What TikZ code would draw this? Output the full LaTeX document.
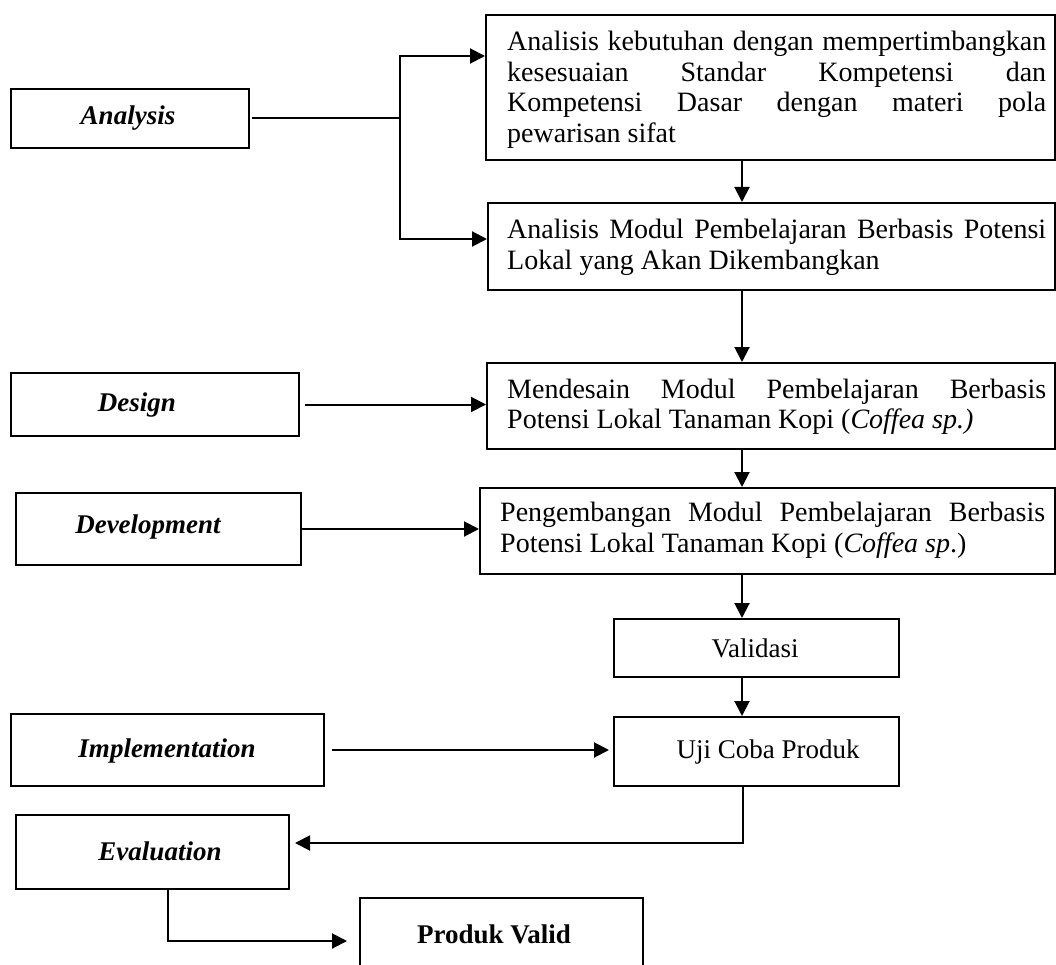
\documentclass[tikz,border=0pt]{standalone}
\usepackage{fontspec}
\setmainfont{Liberation Serif}
\usetikzlibrary{arrows.meta}
\hyphenpenalty=10000
\exhyphenpenalty=10000
\tolerance=9999
\begin{document}
\begin{tikzpicture}[x=1pt,y=-1pt,
  box/.style={draw, line width=2pt, rectangle, anchor=north west, inner sep=0pt},
  body/.style={font=\fontsize{28}{30.5}\selectfont, text width=#1, align=justify, inner sep=0pt, anchor=west},
  lab/.style={font=\fontsize{27}{30}\selectfont\bfseries\itshape, inner sep=0pt},
  plaintxt/.style={font=\fontsize{27}{30}\selectfont, inner sep=0pt},
  boldtxt/.style={font=\fontsize{27}{30}\selectfont\bfseries, inner sep=0pt},
  conn/.style={line width=2pt},
  arr/.style={line width=2pt, -{Triangle[length=15pt,width=15pt]}}]
\useasboundingbox (0,0) rectangle (1056,965);
\clip (0,0) rectangle (1056,965);

% boxes
\node[box, minimum width=238, minimum height=59] (an) at (10,88) {};
\node[box, minimum width=569, minimum height=145] (a1) at (485,14) {};
\node[box, minimum width=567, minimum height=87] (a2) at (487,202) {};
\node[box, minimum width=288, minimum height=63] (de) at (10,372) {};
\node[box, minimum width=568, minimum height=86] (d) at (486,362) {};
\node[box, minimum width=285, minimum height=72] (dv) at (15,492) {};
\node[box, minimum width=575, minimum height=86] (dev) at (479,487) {};
\node[box, minimum width=285, minimum height=58] (va) at (613,618) {};
\node[box, minimum width=285, minimum height=69] (u) at (613,716) {};
\node[box, minimum width=313, minimum height=72] (im) at (10,713) {};
\node[box, minimum width=273, minimum height=74] (ev) at (15,814) {};
\node[box, minimum width=283, minimum height=74] (pv) at (359,897) {};

% texts
\node[lab] (an-t) at (128,118) {Analysis};
\node[body=539] (a1-t) at (507,90) {Analisis kebutuhan dengan mempertimbangkan\linebreak kesesuaian Standar Kompetensi dan\linebreak Kompetensi Dasar dengan materi pola\linebreak pewarisan sifat};
\node[body=539] (a2-t) at (507,247.5) {Analisis Modul Pembelajaran Berbasis Potensi\linebreak Lokal yang Akan Dikembangkan};
\node[lab] (de-t) at (137,405) {Design};
\node[body=539] (d-t) at (507,407) {Mendesain Modul Pembelajaran Berbasis\linebreak Potensi Lokal Tanaman Kopi (\textit{Coffea sp.)}};
\node[lab] (dv-t) at (148,527) {Development};
\node[body=545] (dev-t) at (500,530.5) {Pengembangan Modul Pembelajaran Berbasis\linebreak Potensi Lokal Tanaman Kopi (\textit{Coffea sp}.)};
\node[plaintxt] (va-t) at (755,648) {Validasi};
\node[lab] (im-t) at (167,751) {Implementation};
\node[plaintxt] (u-t) at (768,752) {Uji Coba Produk};
\node[lab] (ev-t) at (160,851) {Evaluation};
\node[boldtxt] (pv-t) at (494,934) {Produk Valid};

% connectors
\coordinate (jt) at (400,56);
\coordinate (jb) at (400,239);
\coordinate (xa) at (742,0);
\coordinate (ue) at (743,843);
\coordinate (ep) at (168,941);

\draw[conn, shorten <=2pt] (an.east) -- (an.east -| jt);
\draw[arr] (jb) -- (jt) -- (jt -| a1.west);
\draw[arr] (jt) -- (jb) -- (jb -| a2.west);
\draw[arr] (a1.south -| xa) -- (a2.north -| xa);
\draw[arr] (a2.south -| xa) -- (d.north -| xa);
\draw[arr, shorten <=5pt] (de.east) -- (de.east -| d.west);
\draw[arr] (d.south -| xa) -- (dev.north -| xa);
\draw[arr] (dv.east) -- (dv.east -| dev.west);
\draw[arr] (dev.south -| xa) -- (va.north -| xa);
\draw[arr] (va.south -| xa) -- (u.north -| xa);
\draw[arr, shorten <=7pt, shorten >=4pt] (im.east) -- (im.east -| u.west);
\draw[arr, shorten >=5pt] (u.south -| ue) -- (ue) -- (ue -| ev.east);
\draw[arr, shorten >=12pt] (ev.south -| ep) -- (ep) -- (ep -| pv.west);
\end{tikzpicture}
\end{document}
